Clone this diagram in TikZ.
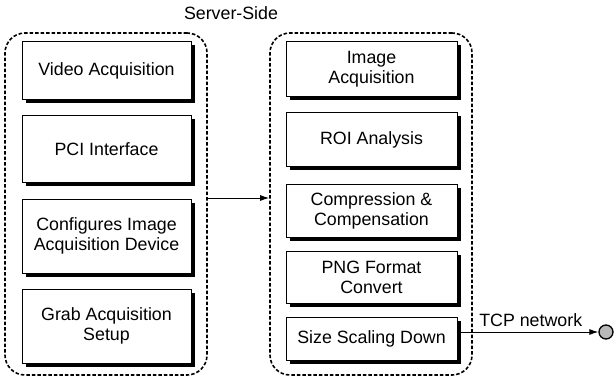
\documentclass[tikz,border=0pt]{standalone}
\usepackage{fontspec}
\setmainfont{Liberation Sans}
\usetikzlibrary{shadows,arrows.meta}

\begin{document}
\begin{tikzpicture}[x=1pt, y=-1pt, font=\fontsize{17.8}{20}\selectfont,
    block/.style={draw, fill=white, line width=1pt, align=center, inner sep=0pt,
      drop shadow={shadow xshift=3.5pt, shadow yshift=-3.5pt, opacity=1, fill=black}},
    lblock/.style={block, minimum width=169pt},
    rblock/.style={block, minimum width=171pt},
    group/.style={draw, line width=1.6pt, dash pattern=on 3.5pt off 2pt, rounded corners=20pt,
      minimum width=202pt, minimum height=342pt},
    link/.style={line width=1pt, -{Latex[length=9pt, width=6pt]}}]
      \useasboundingbox (0,0) rectangle (616,377);
      \node[group] (server) at (106,204) {};
      \node[group] (proc) at (371,204) {};
      \node (title) at (231,13) {Server-Side};
      \node[lblock, minimum height=58pt] (video) at (106.5,71) {Video Acquisition};
      \node[lblock, minimum height=67pt] (pci) at (106.5,149.5) {PCI Interface};
      \node[lblock, minimum height=74pt] (config) at (106.5,236) {Configures Image\\Acquisition Device};
      \node[lblock, minimum height=74pt] (grab) at (106.5,326) {Grab Acquisition\\Setup};
      \node[rblock, minimum height=55pt] (image) at (371.5,69.5) {Image\\Acquisition};
      \node[rblock, minimum height=54pt] (roi) at (371.5,140) {ROI Analysis};
      \node[rblock, minimum height=52pt] (comp) at (371.5,211) {Compression \&\\Compensation};
      \node[rblock, minimum height=52pt] (png) at (371.5,277) {PNG Format\\Convert};
      \node[rblock, minimum height=43pt] (scale) at (371.5,338.5) {Size Scaling Down};
      \node[circle, draw, fill=gray!55, line width=1.3pt, minimum size=14pt, inner sep=0pt] (net) at (606,332) {};
      \draw[link] ([yshift=6pt]server.east) -- ([yshift=6pt]proc.west);
      \draw[link] (scale.east |- net) -- (net) node[pos=0.52, above=1pt] {TCP network};
\end{tikzpicture}
\end{document}
